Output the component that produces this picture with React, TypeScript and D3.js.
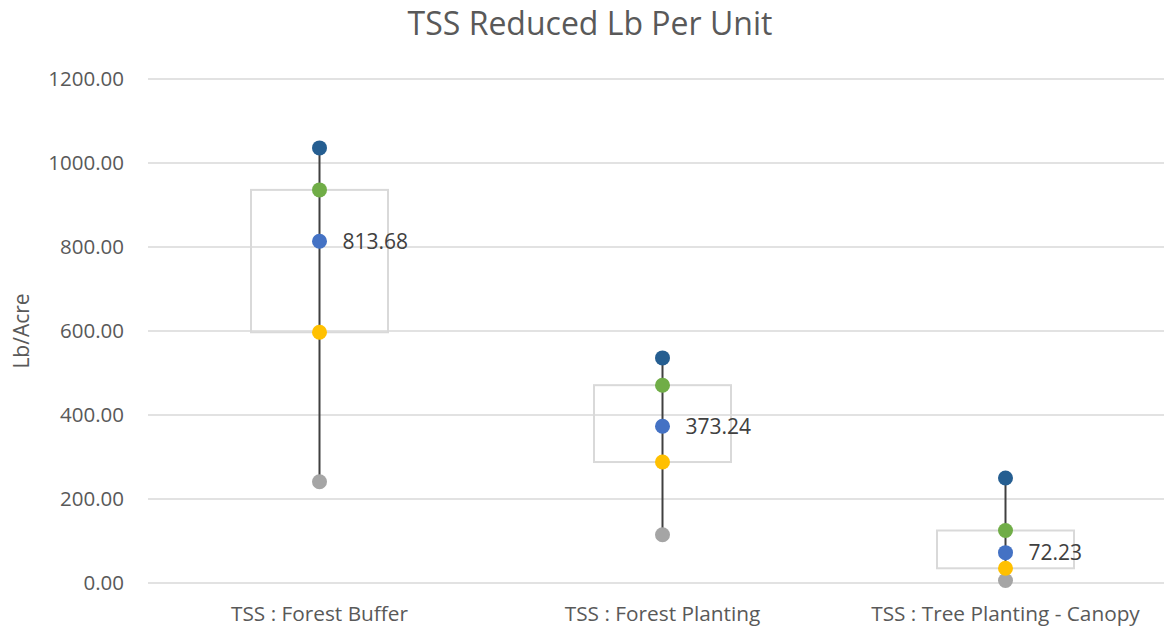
import { useEffect, useRef } from "react"
import * as d3 from "d3"

const categories = ["TSS : Forest Buffer", "TSS : Forest Planting", "TSS : Tree Planting - Canopy"]
const maxValues = [1036, 536, 250]
const q3Values = [936, 471, 125]
const meanValues = [813.68, 373.24, 72.23]
const q1Values = [597, 288, 35]
const minValues = [241, 115, 6]
const yTicks = [0, 200, 400, 600, 800, 1000, 1200]

const font = "'Open Sans', sans-serif"

export default function App() {
  const svgRef = useRef<SVGSVGElement>(null)

  useEffect(() => {
    if (!svgRef.current) return
    d3.select(svgRef.current).selectAll("*").remove()

    const width = 1164
    const height = 627
    const margin = { top: 79, right: -13, bottom: 44, left: 148 }

    const svg = d3.select(svgRef.current).attr("width", width).attr("height", height)

    const x = d3
      .scaleBand()
      .domain(categories)
      .range([margin.left, width - margin.right])

    const y = d3
      .scaleLinear()
      .domain([0, 1200])
      .range([height - margin.bottom, margin.top])

    // gridlines
    svg
      .append("g")
      .selectAll("line")
      .data(yTicks)
      .enter()
      .append("line")
      .attr("x1", margin.left)
      .attr("x2", width)
      .attr("y1", (d) => y(d))
      .attr("y2", (d) => y(d))
      .attr("stroke", "#d9d9d9")
      .attr("stroke-width", 1.3)

    // y tick labels
    svg
      .append("g")
      .selectAll("text")
      .data(yTicks)
      .enter()
      .append("text")
      .attr("x", 124)
      .attr("y", (d) => y(d))
      .attr("dy", "0.35em")
      .attr("text-anchor", "end")
      .attr("font-family", font)
      .attr("font-size", 20.5)
      .attr("fill", "#595959")
      .text((d) => d3.format(".2f")(d))

    // category labels
    svg
      .append("g")
      .selectAll("text")
      .data(categories)
      .enter()
      .append("text")
      .attr("x", (d) => x(d)! + x.bandwidth() / 2)
      .attr("y", 614)
      .attr("dy", "0.35em")
      .attr("text-anchor", "middle")
      .attr("font-family", font)
      .attr("font-size", 20.8)
      .attr("fill", "#595959")
      .text((d) => d)

    // title
    svg
      .append("text")
      .attr("x", 590)
      .attr("y", 24)
      .attr("dy", "0.35em")
      .attr("text-anchor", "middle")
      .attr("font-family", font)
      .attr("font-size", 32)
      .attr("fill", "#595959")
      .text("TSS Reduced Lb Per Unit")

    // y axis title
    svg
      .append("text")
      .attr("transform", `translate(22,${(y(0) + y(1200)) / 2}) rotate(-90)`)
      .attr("dy", "0.35em")
      .attr("text-anchor", "middle")
      .attr("font-family", font)
      .attr("font-size", 21)
      .attr("fill", "#595959")
      .text("Lb/Acre")

    const data = categories.map((c, i) => ({
      cat: c,
      max: maxValues[i],
      q3: q3Values[i],
      mean: meanValues[i],
      q1: q1Values[i],
      min: minValues[i],
    }))

    const cx = (d: { cat: string }) => x(d.cat)! + x.bandwidth() / 2
    const boxW = 137

    // boxes
    svg
      .append("g")
      .selectAll("rect")
      .data(data)
      .enter()
      .append("rect")
      .attr("x", (d) => cx(d) - boxW / 2)
      .attr("width", boxW)
      .attr("y", (d) => y(d.q3))
      .attr("height", (d) => y(d.q1) - y(d.q3))
      .attr("fill", "none")
      .attr("stroke", "#d9d9d9")
      .attr("stroke-width", 2)

    // high-low lines
    svg
      .append("g")
      .selectAll("line")
      .data(data)
      .enter()
      .append("line")
      .attr("x1", cx)
      .attr("x2", cx)
      .attr("y1", (d) => y(d.max))
      .attr("y2", (d) => y(d.min))
      .attr("stroke", "#404040")
      .attr("stroke-width", 2)

    const series: { key: "max" | "q3" | "mean" | "q1" | "min"; color: string }[] = [
      { key: "min", color: "#a5a5a5" },
      { key: "q1", color: "#ffc000" },
      { key: "mean", color: "#4472c4" },
      { key: "q3", color: "#70ad47" },
      { key: "max", color: "#255e91" },
    ]

    series.forEach((s) => {
      svg
        .append("g")
        .selectAll("circle")
        .data(data)
        .enter()
        .append("circle")
        .attr("cx", cx)
        .attr("cy", (d) => y(d[s.key]))
        .attr("r", 7.5)
        .attr("fill", s.color)
    })

    // mean labels
    svg
      .append("g")
      .selectAll("text")
      .data(data)
      .enter()
      .append("text")
      .attr("x", (d) => cx(d) + 23)
      .attr("y", (d) => y(d.mean))
      .attr("dy", "0.35em")
      .attr("font-family", font)
      .attr("font-size", 21)
      .attr("fill", "#404040")
      .text((d) => d3.format(".2f")(d.mean))
  }, [])

  return <svg ref={svgRef} style={{ position: "absolute", left: 0, top: 0 }} />
}
